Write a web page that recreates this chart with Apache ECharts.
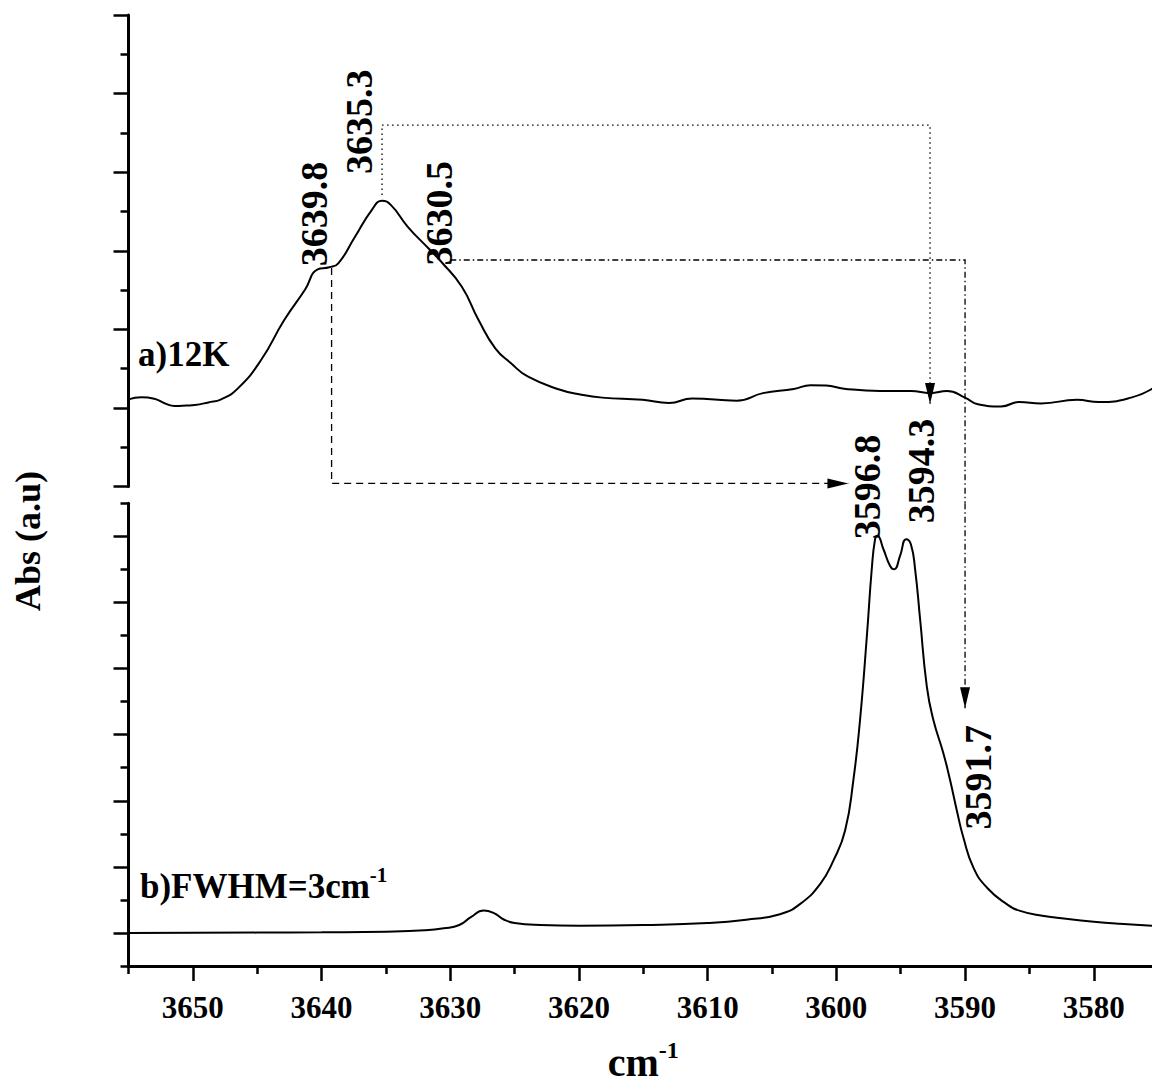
<!DOCTYPE html>
<html>
<head>
<meta charset="utf-8">
<script src="https://cdn.jsdelivr.net/npm/echarts@6/dist/echarts.min.js"></script>
<style>
html,body{margin:0;padding:0;background:#fff;}
#chart{width:1152px;height:1092px;}
</style>
</head>
<body>
<div id="chart"></div>
<script>
// ---------- data ----------
const xMajorTicks = [3650, 3640, 3630, 3620, 3610, 3600, 3590, 3580];
const xMinorTicks = [3655, 3645, 3635, 3625, 3615, 3605, 3595, 3585, 3575];
const bottomMajorY = [0, 1, 2, 3, 4, 5, 6];
const bottomMinorY = [-0.5, 0.5, 1.5, 2.5, 3.5, 4.5, 5.5, 6.5];

// a) 12K spectrum  [wavenumber, absorbance(a.u.)]
const spectrumA = [
  [3655.0,1.109],[3654.0,1.135],[3653.0,1.117],[3652.2,1.06],[3651.4,1.024],[3650.5,1.03],
  [3649.85,1.037],[3648.8,1.07],[3647.8,1.109],[3646.5,1.249],[3644.7,1.609],[3642.9,2.118],
  [3641.3,2.5],[3640.3,2.763],[3639.4,2.789],[3638.7,2.84],[3637.4,3.178],[3636.1,3.518],
  [3635.3,3.636],[3634.6,3.581],[3633.3,3.305],[3631.7,3.031],[3630.7,2.86],[3629.1,2.542],
  [3627.8,2.118],[3626.5,1.758],[3625.3,1.571],[3623.95,1.397],[3621.4,1.228],[3619.9,1.17],
  [3618.2,1.131],[3615.05,1.103],[3613.0,1.062],[3611.2,1.12],[3607.75,1.092],[3605.7,1.188],
  [3603.3,1.24],[3602.0,1.29],[3600.8,1.285],[3599.4,1.245],[3596.6,1.216],[3594.2,1.216],
  [3592.7,1.188],[3591.4,1.216],[3590.0,1.131],[3589.0,1.046],[3587.2,1.018],[3585.8,1.075],
  [3584.1,1.057],[3581.3,1.103],[3579.6,1.075],[3577.1,1.131],[3575.4,1.25]
];

// b) FWHM = 3 cm-1 spectrum
const spectrumB = [
  [3655,0.0],[3645,0.005],[3640,0.01],[3635,0.02],[3632,0.04],[3630.5,0.07],[3629.3,0.12],
  [3628.4,0.24],[3627.4,0.34],[3626.6,0.3],[3625.8,0.2],[3625,0.15],[3623,0.12],[3620,0.11],
  [3615,0.12],[3610,0.15],[3607,0.2],[3604.38,0.284],[3602.83,0.436],[3601.26,0.74],
  [3600.23,1.094],[3599.32,1.55],[3598.68,2.31],[3598.16,3.222],[3597.63,4.488],[3597.25,5.502],
  [3596.99,5.957],[3596.81,6.008],[3596.34,5.805],[3595.82,5.552],[3595.51,5.502],[3595.05,5.704],
  [3594.58,5.957],[3594.21,5.881],[3593.88,5.502],[3593.49,4.742],[3592.97,3.728],[3592.46,3.222],
  [3591.68,2.716],[3591.16,2.31],[3590.64,1.854],[3590.13,1.444],[3589.35,0.989],[3588.31,0.688],
  [3586.76,0.436],[3585.72,0.334],[3584,0.26],[3582,0.21],[3580,0.17],[3578,0.14],[3575.4,0.11]
];

// peak annotations (text and anchor in data units)
const topPeakLabels = ['3639.8', '3635.3', '3630.5', '3596.8', '3594.3'];
const topPeakAnchors = [[3640.58,3.467],[3637.08,4.641],[3630.87,3.476],[3597.65,-0.006],[3593.41,0.197]];
const bottomPeakLabels = ['3591.7'];
const bottomPeakAnchors = [[3589.03,2.356]];
const panelLabelA = 'a)12K';
const panelAnchorA = [3654.26, 1.686];
const panelAnchorB = [3654.11, 0.737];

// connector paths (data units)
const pathDashed = [[3639.22,2.78],[3639.22,0.039],[3599.06,0.039]];               // 3639.8 -> 3596.8
const pathDotted = [[3635.3,3.709],[3635.3,4.599],[3592.72,4.599],[3592.72,1.05]]; // 3635.3 -> 3594.3
const pathDashDotTop = [[3630.0,2.882],[3590.0,2.882],[3590.0,-0.21]];            // 3630.5 -> ...
const pathDashDotBottom = [[3590.0,6.5],[3590.0,3.40]];                           // ... -> 3591.7

// ---------- chart ----------
const FONT = '"Liberation Serif","Times New Roman",Times,serif';
const chart = echarts.init(document.getElementById('chart'), null, {renderer: 'svg'});

const blackLine = {color: '#000', width: 3};
const tickLine = {color: '#000', width: 2.5};

function connector(points, dash, arrow, xi, yi) {
  return {
    type: 'custom', xAxisIndex: xi, yAxisIndex: yi, clip: false, silent: true, z: 5,
    data: [points[0]],
    renderItem: function (params, api) {
      const pts = points.map(function (p) { return api.coord(p); });
      const children = [{
        type: 'polyline', shape: {points: pts},
        style: {stroke: '#000', lineWidth: 1.3, lineDash: dash, fill: 'none'}
      }];
      if (arrow) {
        const a = pts[pts.length - 1], b = pts[pts.length - 2];
        const dx = a[0] - b[0], dy = a[1] - b[1];
        const L = Math.hypot(dx, dy), ux = dx / L, uy = dy / L;
        const len = 21, hw = 5;
        const bx = a[0] - ux * len, by = a[1] - uy * len;
        children.push({
          type: 'polygon',
          shape: {points: [[a[0], a[1]], [bx - uy * hw, by + ux * hw], [bx + uy * hw, by - ux * hw]]},
          style: {fill: '#000', stroke: 'none'}
        });
      }
      return {type: 'group', children: children};
    }
  };
}

const labelText = {fontWeight: 'bold', fontFamily: FONT, color: '#000', opacity: 1, textBorderWidth: 0};

function labelSeries(names, anchors, xi, yi, rotate, fontSize) {
  return {
    type: 'scatter', xAxisIndex: xi, yAxisIndex: yi, symbolSize: 0, clip: false, silent: true, z: 6,
    itemStyle: {opacity: 1},
    data: names.map(function (n, i) { return {name: n, value: anchors[i]}; }),
    label: Object.assign({show: true, formatter: '{b}', position: 'inside', rotate: rotate, fontSize: fontSize}, labelText)
  };
}

const option = {
  backgroundColor: '#fff',
  animation: false,
  grid: [
    {left: 128.5, top: 15, width: 1029.6, height: 471.5, containLabel: false, outerBoundsMode: 'none'},
    {left: 128.5, top: 503.3, width: 1029.6, height: 462.7, containLabel: false, outerBoundsMode: 'none'}
  ],
  xAxis: [
    {gridIndex: 0, type: 'value', min: 3575, max: 3655, inverse: true, show: false},
    {
      gridIndex: 1, type: 'value', min: 3575, max: 3655, inverse: true, position: 'bottom',
      axisLine: {show: true, onZero: false, lineStyle: blackLine},
      axisTick: {show: true, inside: false, length: 15, customValues: xMajorTicks, lineStyle: tickLine},
      axisLabel: {
        show: true, customValues: xMajorTicks, margin: 26, fontSize: 31, fontWeight: 'bold',
        fontFamily: FONT, color: '#000', formatter: function (v) { return String(v); }
      },
      splitLine: {show: false},
      name: '{c|cm}{s|-1}', nameLocation: 'middle', nameGap: 72,
      nameTextStyle: {
        color: '#000', fontFamily: FONT, fontWeight: 'bold',
        rich: {
          c: {fontSize: 40, fontWeight: 'bold', fontFamily: FONT, color: '#000', lineHeight: 44, verticalAlign: 'bottom'},
          s: {fontSize: 24, fontWeight: 'bold', fontFamily: FONT, color: '#000', lineHeight: 24, verticalAlign: 'top'}
        }
      }
    },
    {
      gridIndex: 1, type: 'value', min: 3575, max: 3655, inverse: true, position: 'bottom',
      axisLine: {show: false, onZero: false},
      axisTick: {show: true, inside: false, length: 8, customValues: xMinorTicks, lineStyle: tickLine},
      axisLabel: {show: false}, splitLine: {show: false}
    }
  ],
  yAxis: [
    {
      gridIndex: 0, type: 'value', min: 0, max: 6, interval: 1, position: 'left',
      axisLine: {show: true, onZero: false, lineStyle: blackLine},
      axisTick: {show: true, inside: false, length: 15, lineStyle: tickLine},
      minorTick: {show: true, splitNumber: 2, length: 8, lineStyle: tickLine},
      axisLabel: {show: false}, splitLine: {show: false}, minorSplitLine: {show: false}
    },
    {
      gridIndex: 1, type: 'value', min: -0.5, max: 6.5, position: 'left',
      axisLine: {show: true, onZero: false, lineStyle: blackLine},
      axisTick: {show: true, inside: false, length: 15, customValues: bottomMajorY, lineStyle: tickLine},
      axisLabel: {show: false}, splitLine: {show: false}
    },
    {
      gridIndex: 1, type: 'value', min: -0.5, max: 6.5, position: 'left',
      axisLine: {show: false, onZero: false},
      axisTick: {show: true, inside: false, length: 8, customValues: bottomMinorY, lineStyle: tickLine},
      axisLabel: {show: false}, splitLine: {show: false}
    }
  ],
  graphic: [{
    type: 'text', x: 28, y: 541, rotation: Math.PI / 2, silent: true,
    style: {
      text: 'Abs (a.u)', fontSize: 36, fontWeight: 'bold', fontFamily: FONT, fill: '#000',
      align: 'center', verticalAlign: 'middle', textAlign: 'center', textVerticalAlign: 'middle'
    }
  }],
  series: [
    {
      type: 'line', xAxisIndex: 0, yAxisIndex: 0, data: spectrumA, showSymbol: false, symbol: 'none',
      smooth: 0.5, clip: false, silent: true, lineStyle: {color: '#000', width: 2}
    },
    {
      type: 'line', xAxisIndex: 1, yAxisIndex: 1, data: spectrumB, showSymbol: false, symbol: 'none',
      smooth: 0.5, clip: false, silent: true, lineStyle: {color: '#000', width: 2}
    },
    connector(pathDashed, [7, 5], true, 0, 0),
    connector(pathDotted, [1.5, 3.5], true, 0, 0),
    connector(pathDashDotTop, [6, 3, 1.5, 3], false, 0, 0),
    connector(pathDashDotBottom, [6, 3, 1.5, 3], true, 1, 1),
    labelSeries(topPeakLabels, topPeakAnchors, 0, 0, 90, 38),
    labelSeries(bottomPeakLabels, bottomPeakAnchors, 1, 1, 90, 38),
    {
      type: 'scatter', xAxisIndex: 0, yAxisIndex: 0, symbolSize: 0, clip: false, silent: true, z: 6,
      itemStyle: {opacity: 1},
      data: [{name: panelLabelA, value: panelAnchorA}],
      label: Object.assign({show: true, formatter: '{b}', position: 'right', distance: 0, fontSize: 35}, labelText)
    },
    {
      type: 'scatter', xAxisIndex: 1, yAxisIndex: 1, symbolSize: 0, clip: false, silent: true, z: 6,
      itemStyle: {opacity: 1},
      data: [{name: 'b)FWHM=3cm-1', value: panelAnchorB}],
      label: {
        show: true, position: 'right', distance: 0, opacity: 1,
        formatter: '{m|b)FWHM=3cm}{s|-1}',
        rich: {
          m: {fontSize: 35, fontWeight: 'bold', fontFamily: FONT, color: '#000', lineHeight: 40, verticalAlign: 'bottom'},
          s: {fontSize: 21, fontWeight: 'bold', fontFamily: FONT, color: '#000', lineHeight: 21, verticalAlign: 'top'}
        }
      }
    }
  ]
};
chart.setOption(option);
</script>
</body>
</html>
